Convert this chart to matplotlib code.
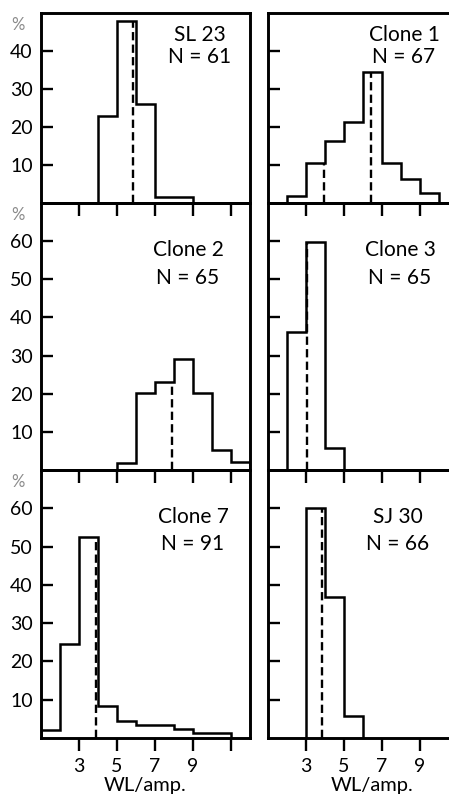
import numpy as np
import matplotlib
matplotlib.use('Agg')
import matplotlib.pyplot as plt

plt.rcParams['font.family'] = ['Lato', 'DejaVu Sans']

# bin edges (WL/amp.) and percentages
sl23_edges = [4, 5, 6, 7, 9]
sl23_pct = [23, 48, 26, 1.6]
sl23_median = [5.84]

clone1_edges = [2, 3, 4, 5, 6, 7, 8, 9, 10]
clone1_pct = [1.8, 10.5, 16.3, 21.3, 34.5, 10.5, 6.3, 2.6]
clone1_median = [3.95, 6.4]

clone2_edges = [5, 6, 7, 8, 9, 10, 11, 12]
clone2_pct = [1.8, 20.3, 23.2, 29.2, 20.3, 5.3, 2.1]
clone2_median = [7.92]

clone3_edges = [2, 3, 4, 5]
clone3_pct = [36.3, 59.7, 5.8]
clone3_median = [3.05]

clone7_edges = [1, 2, 3, 4, 5, 6, 8, 9, 11]
clone7_pct = [2.1, 24.5, 52.6, 8.4, 4.5, 3.4, 2.4, 1.4]
clone7_median = [3.9]

sj30_edges = [3, 4, 5, 6]
sj30_pct = [60, 36.8, 5.8]
sj30_median = [3.84]

panels = [
    ('SL 23', 'N = 61', sl23_edges, sl23_pct, sl23_median),
    ('Clone 1', 'N = 67', clone1_edges, clone1_pct, clone1_median),
    ('Clone 2', 'N = 65', clone2_edges, clone2_pct, clone2_median),
    ('Clone 3', 'N = 65', clone3_edges, clone3_pct, clone3_median),
    ('Clone 7', 'N = 91', clone7_edges, clone7_pct, clone7_median),
    ('SJ 30', 'N = 66', sj30_edges, sj30_pct, sj30_median),
]

xticks = [3, 5, 7, 9, 11]
xticklabels = ['3', '5', '7', '9', '']

W, H = 449, 802
fig = plt.figure(figsize=(W / 100, H / 100), dpi=100)
fig.patch.set_facecolor('white')

# pixel boxes for each panel
col_x = [(41, 250), (268, 477)]
row_y = [(13, 203, 50), (203, 470, 70), (470, 738, 70)]
# label centre x (px) and offsets from panel top for the two text lines
label_x = [200, 404, 188, 400, 193, 398]
label_dy = [(22, 44), (47, 75), (47, 74)]

for i, (name, nlab, edges, pct, med) in enumerate(panels):
    r, c = divmod(i, 2)
    x0, x1 = col_x[c]
    y0, y1, ymax = row_y[r]
    ax = fig.add_axes([x0 / W, 1 - y1 / H, (x1 - x0) / W, (y1 - y0) / H])
    ax.set_facecolor('none')
    ax.set_xlim(1, 12)
    ax.set_ylim(0, ymax)
    for s in ax.spines.values():
        s.set_linewidth(2.1)

    ax.stairs(pct, edges, baseline=0, color='black', lw=1.8)
    e = np.array(edges)
    for m in med:
        k = np.searchsorted(e, m) - 1
        ax.vlines(m, 0, pct[k], colors='black', lw=1.7,
                  linestyles=(0, (3.5, 1.8)))

    ax.set_yticks(range(10, ymax, 10))
    ax.tick_params(axis='y', direction='in', length=8.5, width=1.7, pad=6,
                   labelsize=14, labelleft=(c == 0))
    ax.set_xticks(xticks)
    ax.tick_params(axis='x', direction='out', length=9.5, width=1.7, pad=5,
                   labelsize=14, labelbottom=(r == 2))
    if r == 2:
        ax.set_xticklabels(xticklabels)
        ax.set_xlabel('WL/amp.', fontsize=14.5, labelpad=1)
    if c == 0:
        ax.text(-0.11, 1 - 12 / (y1 - y0), '%', transform=ax.transAxes,
                ha='center', va='center', fontsize=12, color='#8a8a8a')

    fx = (label_x[i] - x0) / (x1 - x0)
    d1, d2 = label_dy[r]
    ax.text(fx, 1 - d1 / (y1 - y0), name, transform=ax.transAxes,
            ha='center', va='center', fontsize=15)
    ax.text(fx, 1 - d2 / (y1 - y0), nlab, transform=ax.transAxes,
            ha='center', va='center', fontsize=15)

fig.savefig('out.png', dpi=100, facecolor='white')
